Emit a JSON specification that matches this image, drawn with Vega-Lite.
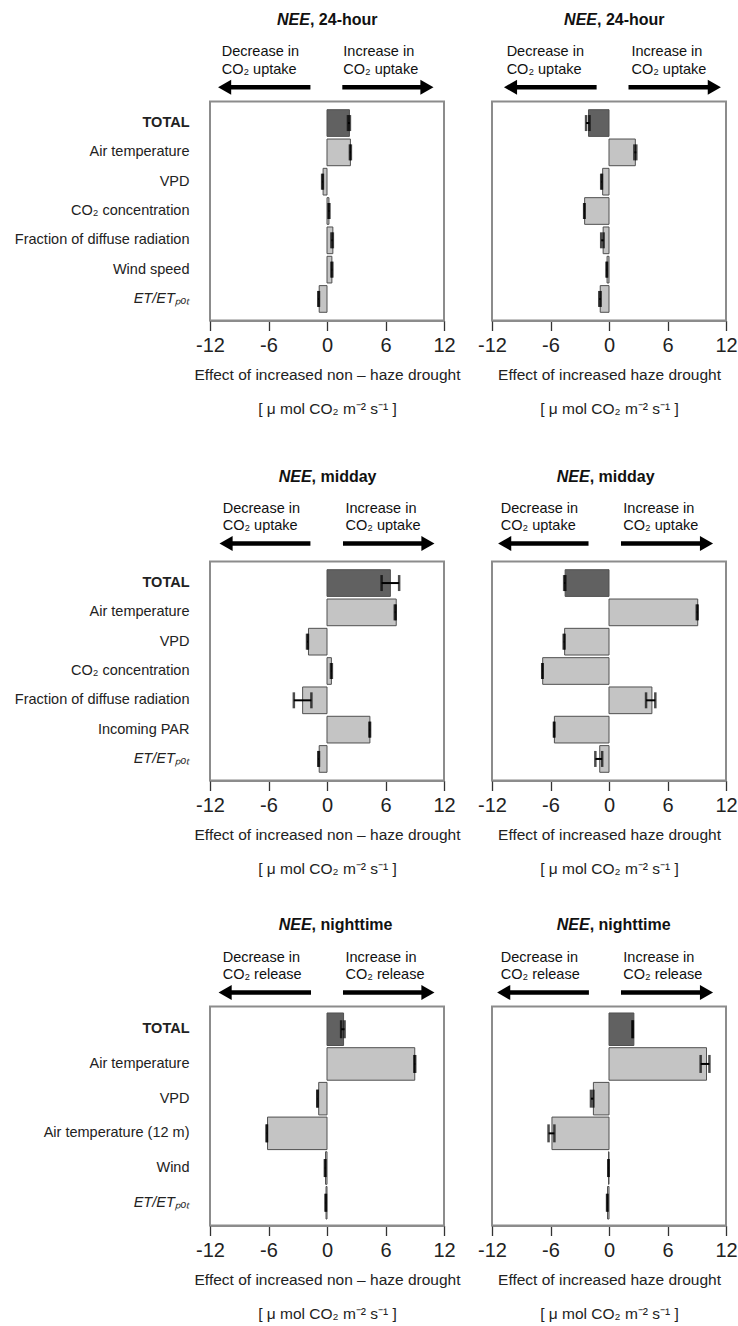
{
  "$schema": "https://vega.github.io/schema/vega-lite/v6.json",
  "padding": {"left": 13, "top": 8.5, "right": 5, "bottom": 5},
  "background": "white",
  "config": {
    "font": "Liberation Sans",
    "view": {"stroke": "#8c8c8c", "strokeWidth": 2},
    "axis": {"grid": false}
  },
  "datasets": {
    "bars": [
      {"p": "A", "f": "TOTAL", "t": "total", "v": 2.3, "lo": 2.15, "hi": 2.35},
      {"p": "A", "f": "Air temperature", "t": "factor", "v": 2.4, "lo": 2.35, "hi": 2.45},
      {"p": "A", "f": "VPD", "t": "factor", "v": -0.4, "lo": -0.5, "hi": -0.42},
      {"p": "A", "f": "CO₂ concentration", "t": "factor", "v": 0.2, "lo": 0.15, "hi": 0.25},
      {"p": "A", "f": "Fraction of diffuse radiation", "t": "factor", "v": 0.6, "lo": 0.45, "hi": 0.6},
      {"p": "A", "f": "Wind speed", "t": "factor", "v": 0.5, "lo": 0.45, "hi": 0.55},
      {"p": "A", "f": "ET/ETₚₒₜ", "t": "factor", "v": -0.8, "lo": -0.9, "hi": -0.82},
      {"p": "B", "f": "TOTAL", "t": "total", "v": -2.1, "lo": -2.35, "hi": -2.0},
      {"p": "B", "f": "Air temperature", "t": "factor", "v": 2.7, "lo": 2.6, "hi": 2.8},
      {"p": "B", "f": "VPD", "t": "factor", "v": -0.65, "lo": -0.8, "hi": -0.72},
      {"p": "B", "f": "CO₂ concentration", "t": "factor", "v": -2.5, "lo": -2.55, "hi": -2.5},
      {"p": "B", "f": "Fraction of diffuse radiation", "t": "factor", "v": -0.6, "lo": -0.8, "hi": -0.55},
      {"p": "B", "f": "Wind speed", "t": "factor", "v": -0.2, "lo": -0.25, "hi": -0.2},
      {"p": "B", "f": "ET/ETₚₒₜ", "t": "factor", "v": -0.9, "lo": -1.0, "hi": -0.85},
      {"p": "C", "f": "TOTAL", "t": "total", "v": 6.5, "lo": 5.6, "hi": 7.4},
      {"p": "C", "f": "Air temperature", "t": "factor", "v": 7.1, "lo": 6.95, "hi": 7.05},
      {"p": "C", "f": "VPD", "t": "factor", "v": -1.9, "lo": -2.05, "hi": -1.95},
      {"p": "C", "f": "CO₂ concentration", "t": "factor", "v": 0.45, "lo": 0.4, "hi": 0.5},
      {"p": "C", "f": "Fraction of diffuse radiation", "t": "factor", "v": -2.5, "lo": -3.4, "hi": -1.6},
      {"p": "C", "f": "Incoming PAR", "t": "factor", "v": 4.4, "lo": 4.35, "hi": 4.42},
      {"p": "C", "f": "ET/ETₚₒₜ", "t": "factor", "v": -0.8, "lo": -0.9, "hi": -0.82},
      {"p": "D", "f": "TOTAL", "t": "total", "v": -4.5, "lo": -4.6, "hi": -4.48},
      {"p": "D", "f": "Air temperature", "t": "factor", "v": 9.1, "lo": 9.0, "hi": 9.1},
      {"p": "D", "f": "VPD", "t": "factor", "v": -4.55, "lo": -4.65, "hi": -4.55},
      {"p": "D", "f": "CO₂ concentration", "t": "factor", "v": -6.8, "lo": -6.85, "hi": -6.8},
      {"p": "D", "f": "Fraction of diffuse radiation", "t": "factor", "v": 4.4, "lo": 3.8, "hi": 4.75},
      {"p": "D", "f": "Incoming PAR", "t": "factor", "v": -5.6, "lo": -5.65, "hi": -5.6},
      {"p": "D", "f": "ET/ETₚₒₜ", "t": "factor", "v": -0.95, "lo": -1.4, "hi": -0.7},
      {"p": "E", "f": "TOTAL", "t": "total", "v": 1.7, "lo": 1.45, "hi": 1.8},
      {"p": "E", "f": "Air temperature", "t": "factor", "v": 9.0, "lo": 8.95, "hi": 9.05},
      {"p": "E", "f": "VPD", "t": "factor", "v": -0.85, "lo": -1.0, "hi": -0.95},
      {"p": "E", "f": "Air temperature (12 m)", "t": "factor", "v": -6.1, "lo": -6.2, "hi": -6.15},
      {"p": "E", "f": "Wind", "t": "factor", "v": -0.15, "lo": -0.22, "hi": -0.15},
      {"p": "E", "f": "ET/ETₚₒₜ", "t": "factor", "v": -0.1, "lo": -0.15, "hi": -0.1},
      {"p": "F", "f": "TOTAL", "t": "total", "v": 2.55, "lo": 2.4, "hi": 2.45},
      {"p": "F", "f": "Air temperature", "t": "factor", "v": 10.0, "lo": 9.4, "hi": 10.3},
      {"p": "F", "f": "VPD", "t": "factor", "v": -1.6, "lo": -1.85, "hi": -1.6},
      {"p": "F", "f": "Air temperature (12 m)", "t": "factor", "v": -5.85, "lo": -6.2, "hi": -5.6},
      {"p": "F", "f": "Wind", "t": "factor", "v": -0.05, "lo": -0.08, "hi": -0.03},
      {"p": "F", "f": "ET/ETₚₒₜ", "t": "factor", "v": -0.15, "lo": -0.2, "hi": -0.15}
    ],
    "hdr": [
      {"p": "A", "lv": "t", "part": "a", "txt": "NEE", "x": -1.75},
      {"p": "A", "lv": "t", "part": "b", "txt": ", 24-hour", "x": -1.75},
      {"p": "A", "lv": "l1", "part": "c", "txt": "Decrease in", "x": -10.8},
      {"p": "A", "lv": "l2", "part": "c", "txt": "CO₂ uptake", "x": -10.8},
      {"p": "A", "lv": "l1", "part": "c", "txt": "Increase in", "x": 1.67},
      {"p": "A", "lv": "l2", "part": "c", "txt": "CO₂ uptake", "x": 1.67},
      {"p": "B", "lv": "t", "part": "a", "txt": "NEE", "x": -1.23},
      {"p": "B", "lv": "t", "part": "b", "txt": ", 24-hour", "x": -1.23},
      {"p": "B", "lv": "l1", "part": "c", "txt": "Decrease in", "x": -10.5},
      {"p": "B", "lv": "l2", "part": "c", "txt": "CO₂ uptake", "x": -10.5},
      {"p": "B", "lv": "l1", "part": "c", "txt": "Increase in", "x": 2.3},
      {"p": "B", "lv": "l2", "part": "c", "txt": "CO₂ uptake", "x": 2.3},
      {"p": "C", "lv": "t", "part": "a", "txt": "NEE", "x": -1.58},
      {"p": "C", "lv": "t", "part": "b", "txt": ", midday", "x": -1.58},
      {"p": "C", "lv": "l1", "part": "c", "txt": "Decrease in", "x": -10.7},
      {"p": "C", "lv": "l2", "part": "c", "txt": "CO₂ uptake", "x": -10.7},
      {"p": "C", "lv": "l1", "part": "c", "txt": "Increase in", "x": 1.9},
      {"p": "C", "lv": "l2", "part": "c", "txt": "CO₂ uptake", "x": 1.9},
      {"p": "D", "lv": "t", "part": "a", "txt": "NEE", "x": -1.98},
      {"p": "D", "lv": "t", "part": "b", "txt": ", midday", "x": -1.98},
      {"p": "D", "lv": "l1", "part": "c", "txt": "Decrease in", "x": -11.1},
      {"p": "D", "lv": "l2", "part": "c", "txt": "CO₂ uptake", "x": -11.1},
      {"p": "D", "lv": "l1", "part": "c", "txt": "Increase in", "x": 1.47},
      {"p": "D", "lv": "l2", "part": "c", "txt": "CO₂ uptake", "x": 1.47},
      {"p": "E", "lv": "t", "part": "a", "txt": "NEE", "x": -1.58},
      {"p": "E", "lv": "t", "part": "b", "txt": ", nighttime", "x": -1.58},
      {"p": "E", "lv": "l1", "part": "c", "txt": "Decrease in", "x": -10.7},
      {"p": "E", "lv": "l2", "part": "c", "txt": "CO₂ release", "x": -10.7},
      {"p": "E", "lv": "l1", "part": "c", "txt": "Increase in", "x": 1.9},
      {"p": "E", "lv": "l2", "part": "c", "txt": "CO₂ release", "x": 1.9},
      {"p": "F", "lv": "t", "part": "a", "txt": "NEE", "x": -1.98},
      {"p": "F", "lv": "t", "part": "b", "txt": ", nighttime", "x": -1.98},
      {"p": "F", "lv": "l1", "part": "c", "txt": "Decrease in", "x": -11.1},
      {"p": "F", "lv": "l2", "part": "c", "txt": "CO₂ release", "x": -11.1},
      {"p": "F", "lv": "l1", "part": "c", "txt": "Increase in", "x": 1.47},
      {"p": "F", "lv": "l2", "part": "c", "txt": "CO₂ release", "x": 1.47}
    ],
    "arr": [
      {"p": "A", "lv": "a", "dir": "L", "x": -1.7, "x2": -10.5},
      {"p": "A", "lv": "a", "dir": "R", "x": 1.57, "x2": 10.25},
      {"p": "B", "lv": "a", "dir": "L", "x": -1.27, "x2": -10.1},
      {"p": "B", "lv": "a", "dir": "R", "x": 2.0, "x2": 10.8},
      {"p": "C", "lv": "a", "dir": "L", "x": -1.7, "x2": -10.35},
      {"p": "C", "lv": "a", "dir": "R", "x": 1.64, "x2": 10.35},
      {"p": "D", "lv": "a", "dir": "L", "x": -2.1, "x2": -10.7},
      {"p": "D", "lv": "a", "dir": "R", "x": 1.23, "x2": 10.0},
      {"p": "E", "lv": "a", "dir": "L", "x": -1.64, "x2": -10.45},
      {"p": "E", "lv": "a", "dir": "R", "x": 1.64, "x2": 10.35},
      {"p": "F", "lv": "a", "dir": "L", "x": -2.06, "x2": -10.8},
      {"p": "F", "lv": "a", "dir": "R", "x": 1.23, "x2": 10.0}
    ]
  },
  "bounds": "flush",
  "columns": 2,
  "spacing": {"row": 5, "column": 48},
  "concat": [
    {
      "width": 234, "height": 87.5, "view": {"stroke": null},
      "layer": [
        {"data": {"name": "hdr"}, "transform": [{"filter": "datum.p === 'A' && datum.part === 'a'"}],
         "mark": {"type": "text", "align": "right", "fontWeight": "bold", "fontStyle": "italic", "fontSize": 16, "dy": 3, "color": "#111"},
         "encoding": {"x": {"field": "x", "type": "quantitative", "scale": {"domain": [-12, 12], "nice": false, "zero": false}, "axis": null},
                      "y": {"field": "lv", "type": "ordinal", "scale": {"type": "point", "domain": ["t", "s", "l1", "l2", "a"], "padding": 0.5}, "axis": null},
                      "text": {"field": "txt"}}},
        {"data": {"name": "hdr"}, "transform": [{"filter": "datum.p === 'A' && datum.part === 'b'"}],
         "mark": {"type": "text", "align": "left", "fontWeight": "bold", "fontSize": 16, "dy": 3, "color": "#111"},
         "encoding": {"x": {"field": "x", "type": "quantitative"}, "y": {"field": "lv", "type": "ordinal"}, "text": {"field": "txt"}}},
        {"data": {"name": "hdr"}, "transform": [{"filter": "datum.p === 'A' && datum.part === 'c'"}],
         "mark": {"type": "text", "align": "left", "fontSize": 14.5, "color": "#111"},
         "encoding": {"x": {"field": "x", "type": "quantitative"}, "y": {"field": "lv", "type": "ordinal"}, "text": {"field": "txt"}}},
        {"data": {"name": "arr"}, "transform": [{"filter": "datum.p === 'A'"}],
         "mark": {"type": "rule", "strokeWidth": 4.5, "color": "black"},
         "encoding": {"x": {"field": "x", "type": "quantitative"}, "x2": {"field": "x2"}, "y": {"field": "lv", "type": "ordinal"}}},
        {"data": {"name": "arr"}, "transform": [{"filter": "datum.p === 'A'"}],
         "mark": {"type": "point", "filled": true, "size": 230, "color": "black", "opacity": 1},
         "encoding": {"x": {"field": "x2", "type": "quantitative"}, "y": {"field": "lv", "type": "ordinal"},
                      "shape": {"field": "dir", "type": "nominal", "scale": {"domain": ["L", "R"], "range": ["triangle-left", "triangle-right"]}, "legend": null}}}
      ]
    },
    {
      "width": 234, "height": 87.5, "view": {"stroke": null},
      "layer": [
        {"data": {"name": "hdr"}, "transform": [{"filter": "datum.p === 'B' && datum.part === 'a'"}],
         "mark": {"type": "text", "align": "right", "fontWeight": "bold", "fontStyle": "italic", "fontSize": 16, "dy": 3, "color": "#111"},
         "encoding": {"x": {"field": "x", "type": "quantitative", "scale": {"domain": [-12, 12], "nice": false, "zero": false}, "axis": null},
                      "y": {"field": "lv", "type": "ordinal", "scale": {"type": "point", "domain": ["t", "s", "l1", "l2", "a"], "padding": 0.5}, "axis": null},
                      "text": {"field": "txt"}}},
        {"data": {"name": "hdr"}, "transform": [{"filter": "datum.p === 'B' && datum.part === 'b'"}],
         "mark": {"type": "text", "align": "left", "fontWeight": "bold", "fontSize": 16, "dy": 3, "color": "#111"},
         "encoding": {"x": {"field": "x", "type": "quantitative"}, "y": {"field": "lv", "type": "ordinal"}, "text": {"field": "txt"}}},
        {"data": {"name": "hdr"}, "transform": [{"filter": "datum.p === 'B' && datum.part === 'c'"}],
         "mark": {"type": "text", "align": "left", "fontSize": 14.5, "color": "#111"},
         "encoding": {"x": {"field": "x", "type": "quantitative"}, "y": {"field": "lv", "type": "ordinal"}, "text": {"field": "txt"}}},
        {"data": {"name": "arr"}, "transform": [{"filter": "datum.p === 'B'"}],
         "mark": {"type": "rule", "strokeWidth": 4.5, "color": "black"},
         "encoding": {"x": {"field": "x", "type": "quantitative"}, "x2": {"field": "x2"}, "y": {"field": "lv", "type": "ordinal"}}},
        {"data": {"name": "arr"}, "transform": [{"filter": "datum.p === 'B'"}],
         "mark": {"type": "point", "filled": true, "size": 230, "color": "black", "opacity": 1},
         "encoding": {"x": {"field": "x2", "type": "quantitative"}, "y": {"field": "lv", "type": "ordinal"},
                      "shape": {"field": "dir", "type": "nominal", "scale": {"domain": ["L", "R"], "range": ["triangle-left", "triangle-right"]}, "legend": null}}}
      ]
    },
    {
      "width": 234, "height": 219,
      "data": {"name": "bars"},
      "transform": [{"filter": "datum.p === 'A'"}],
      "encoding": {"y": {"field": "f", "type": "nominal", "sort": null, "scale": {"paddingInner": 0.09, "paddingOuter": 0.28},
        "axis": {"title": null, "ticks": false, "tickSize": 0, "domain": false, "labelPadding": 21, "labelFontSize": 14.5, "labelColor": "#222", "labelLimit": 300,
                 "labelFontWeight": {"condition": {"test": "datum.value === 'TOTAL'", "value": "bold"}, "value": "normal"},
                 "labelFontStyle": {"condition": {"test": "indexof(datum.value, 'ET/') === 0", "value": "italic"}, "value": "normal"}}}},
      "layer": [
        {"mark": {"type": "bar", "stroke": "#505050", "strokeWidth": 1},
         "encoding": {"x": {"field": "v", "type": "quantitative", "scale": {"domain": [-12, 12], "nice": false, "zero": false},
            "axis": {"values": [-12, -9, -6, -3, 0, 3, 6, 9, 12], "labelExpr": "datum.value % 6 === 0 ? '' + datum.value : ''", "tickSize": 10, "tickColor": "#333", "tickWidth": 1.3, "domainColor": "#8c8c8c", "domainWidth": 2, "labelFontSize": 20, "labelColor": "#222", "labelPadding": 5, "labelFlush": false, "labelOverlap": false, "titleFontSize": 15.5, "titleFontWeight": "normal", "titleColor": "#222", "titlePadding": 12, "titleLineHeight": 34,
                     "title": ["Effect of increased non – haze drought", "[ μ mol CO₂ m⁻² s⁻¹ ]"]}},
                      "color": {"field": "t", "type": "nominal", "scale": {"domain": ["total", "factor"], "range": ["#616161", "#c4c4c4"]}, "legend": null}}},
        {"mark": {"type": "rule", "color": "black", "strokeWidth": 2},
         "encoding": {"x": {"field": "lo", "type": "quantitative"}, "x2": {"field": "hi"}}},
        {"mark": {"type": "tick", "color": "black", "thickness": 2.5, "size": 16},
         "encoding": {"x": {"field": "lo", "type": "quantitative"}}},
        {"mark": {"type": "tick", "color": "black", "thickness": 2.5, "size": 16},
         "encoding": {"x": {"field": "hi", "type": "quantitative"}}}
      ]
    },
    {
      "width": 234, "height": 219,
      "data": {"name": "bars"},
      "transform": [{"filter": "datum.p === 'B'"}],
      "encoding": {"y": {"field": "f", "type": "nominal", "sort": null, "scale": {"paddingInner": 0.09, "paddingOuter": 0.28}, "axis": null}},
      "layer": [
        {"mark": {"type": "bar", "stroke": "#505050", "strokeWidth": 1},
         "encoding": {"x": {"field": "v", "type": "quantitative", "scale": {"domain": [-12, 12], "nice": false, "zero": false},
            "axis": {"values": [-12, -9, -6, -3, 0, 3, 6, 9, 12], "labelExpr": "datum.value % 6 === 0 ? '' + datum.value : ''", "tickSize": 10, "tickColor": "#333", "tickWidth": 1.3, "domainColor": "#8c8c8c", "domainWidth": 2, "labelFontSize": 20, "labelColor": "#222", "labelPadding": 5, "labelFlush": false, "labelOverlap": false, "titleFontSize": 15.5, "titleFontWeight": "normal", "titleColor": "#222", "titlePadding": 12, "titleLineHeight": 34,
                     "title": ["Effect of increased haze drought", "[ μ mol CO₂ m⁻² s⁻¹ ]"]}},
                      "color": {"field": "t", "type": "nominal", "scale": {"domain": ["total", "factor"], "range": ["#616161", "#c4c4c4"]}, "legend": null}}},
        {"mark": {"type": "rule", "color": "black", "strokeWidth": 2},
         "encoding": {"x": {"field": "lo", "type": "quantitative"}, "x2": {"field": "hi"}}},
        {"mark": {"type": "tick", "color": "black", "thickness": 2.5, "size": 16},
         "encoding": {"x": {"field": "lo", "type": "quantitative"}}},
        {"mark": {"type": "tick", "color": "black", "thickness": 2.5, "size": 16},
         "encoding": {"x": {"field": "hi", "type": "quantitative"}}}
      ]
    },
    {
      "width": 234, "height": 231, "view": {"stroke": null},
      "layer": [
        {"data": {"name": "hdr"}, "transform": [{"filter": "datum.p === 'C' && datum.part === 'a'"}],
         "mark": {"type": "text", "align": "right", "fontWeight": "bold", "fontStyle": "italic", "fontSize": 16, "dy": 3, "color": "#111"},
         "encoding": {"x": {"field": "x", "type": "quantitative", "scale": {"domain": [-12, 12], "nice": false, "zero": false}, "axis": null},
                      "y": {"field": "lv", "type": "ordinal", "scale": {"type": "point", "domain": ["s1", "s2", "s3", "s4", "s5", "s6", "s7", "s8", "t", "s", "l1", "l2", "a"], "padding": 0.6, "align": 0.381}, "axis": null},
                      "text": {"field": "txt"}}},
        {"data": {"name": "hdr"}, "transform": [{"filter": "datum.p === 'C' && datum.part === 'b'"}],
         "mark": {"type": "text", "align": "left", "fontWeight": "bold", "fontSize": 16, "dy": 3, "color": "#111"},
         "encoding": {"x": {"field": "x", "type": "quantitative"}, "y": {"field": "lv", "type": "ordinal"}, "text": {"field": "txt"}}},
        {"data": {"name": "hdr"}, "transform": [{"filter": "datum.p === 'C' && datum.part === 'c'"}],
         "mark": {"type": "text", "align": "left", "fontSize": 14.5, "color": "#111"},
         "encoding": {"x": {"field": "x", "type": "quantitative"}, "y": {"field": "lv", "type": "ordinal"}, "text": {"field": "txt"}}},
        {"data": {"name": "arr"}, "transform": [{"filter": "datum.p === 'C'"}],
         "mark": {"type": "rule", "strokeWidth": 4.5, "color": "black"},
         "encoding": {"x": {"field": "x", "type": "quantitative"}, "x2": {"field": "x2"}, "y": {"field": "lv", "type": "ordinal"}}},
        {"data": {"name": "arr"}, "transform": [{"filter": "datum.p === 'C'"}],
         "mark": {"type": "point", "filled": true, "size": 230, "color": "black", "opacity": 1},
         "encoding": {"x": {"field": "x2", "type": "quantitative"}, "y": {"field": "lv", "type": "ordinal"},
                      "shape": {"field": "dir", "type": "nominal", "scale": {"domain": ["L", "R"], "range": ["triangle-left", "triangle-right"]}, "legend": null}}}
      ]
    },
    {
      "width": 234, "height": 231, "view": {"stroke": null},
      "layer": [
        {"data": {"name": "hdr"}, "transform": [{"filter": "datum.p === 'D' && datum.part === 'a'"}],
         "mark": {"type": "text", "align": "right", "fontWeight": "bold", "fontStyle": "italic", "fontSize": 16, "dy": 3, "color": "#111"},
         "encoding": {"x": {"field": "x", "type": "quantitative", "scale": {"domain": [-12, 12], "nice": false, "zero": false}, "axis": null},
                      "y": {"field": "lv", "type": "ordinal", "scale": {"type": "point", "domain": ["s1", "s2", "s3", "s4", "s5", "s6", "s7", "s8", "t", "s", "l1", "l2", "a"], "padding": 0.6, "align": 0.381}, "axis": null},
                      "text": {"field": "txt"}}},
        {"data": {"name": "hdr"}, "transform": [{"filter": "datum.p === 'D' && datum.part === 'b'"}],
         "mark": {"type": "text", "align": "left", "fontWeight": "bold", "fontSize": 16, "dy": 3, "color": "#111"},
         "encoding": {"x": {"field": "x", "type": "quantitative"}, "y": {"field": "lv", "type": "ordinal"}, "text": {"field": "txt"}}},
        {"data": {"name": "hdr"}, "transform": [{"filter": "datum.p === 'D' && datum.part === 'c'"}],
         "mark": {"type": "text", "align": "left", "fontSize": 14.5, "color": "#111"},
         "encoding": {"x": {"field": "x", "type": "quantitative"}, "y": {"field": "lv", "type": "ordinal"}, "text": {"field": "txt"}}},
        {"data": {"name": "arr"}, "transform": [{"filter": "datum.p === 'D'"}],
         "mark": {"type": "rule", "strokeWidth": 4.5, "color": "black"},
         "encoding": {"x": {"field": "x", "type": "quantitative"}, "x2": {"field": "x2"}, "y": {"field": "lv", "type": "ordinal"}}},
        {"data": {"name": "arr"}, "transform": [{"filter": "datum.p === 'D'"}],
         "mark": {"type": "point", "filled": true, "size": 230, "color": "black", "opacity": 1},
         "encoding": {"x": {"field": "x2", "type": "quantitative"}, "y": {"field": "lv", "type": "ordinal"},
                      "shape": {"field": "dir", "type": "nominal", "scale": {"domain": ["L", "R"], "range": ["triangle-left", "triangle-right"]}, "legend": null}}}
      ]
    },
    {
      "width": 234, "height": 219,
      "data": {"name": "bars"},
      "transform": [{"filter": "datum.p === 'C'"}],
      "encoding": {"y": {"field": "f", "type": "nominal", "sort": null, "scale": {"paddingInner": 0.09, "paddingOuter": 0.28},
        "axis": {"title": null, "ticks": false, "tickSize": 0, "domain": false, "labelPadding": 21, "labelFontSize": 14.5, "labelColor": "#222", "labelLimit": 300,
                 "labelFontWeight": {"condition": {"test": "datum.value === 'TOTAL'", "value": "bold"}, "value": "normal"},
                 "labelFontStyle": {"condition": {"test": "indexof(datum.value, 'ET/') === 0", "value": "italic"}, "value": "normal"}}}},
      "layer": [
        {"mark": {"type": "bar", "stroke": "#505050", "strokeWidth": 1},
         "encoding": {"x": {"field": "v", "type": "quantitative", "scale": {"domain": [-12, 12], "nice": false, "zero": false},
            "axis": {"values": [-12, -9, -6, -3, 0, 3, 6, 9, 12], "labelExpr": "datum.value % 6 === 0 ? '' + datum.value : ''", "tickSize": 10, "tickColor": "#333", "tickWidth": 1.3, "domainColor": "#8c8c8c", "domainWidth": 2, "labelFontSize": 20, "labelColor": "#222", "labelPadding": 5, "labelFlush": false, "labelOverlap": false, "titleFontSize": 15.5, "titleFontWeight": "normal", "titleColor": "#222", "titlePadding": 12, "titleLineHeight": 34,
                     "title": ["Effect of increased non – haze drought", "[ μ mol CO₂ m⁻² s⁻¹ ]"]}},
                      "color": {"field": "t", "type": "nominal", "scale": {"domain": ["total", "factor"], "range": ["#616161", "#c4c4c4"]}, "legend": null}}},
        {"mark": {"type": "rule", "color": "black", "strokeWidth": 2},
         "encoding": {"x": {"field": "lo", "type": "quantitative"}, "x2": {"field": "hi"}}},
        {"mark": {"type": "tick", "color": "black", "thickness": 2.5, "size": 16},
         "encoding": {"x": {"field": "lo", "type": "quantitative"}}},
        {"mark": {"type": "tick", "color": "black", "thickness": 2.5, "size": 16},
         "encoding": {"x": {"field": "hi", "type": "quantitative"}}}
      ]
    },
    {
      "width": 234, "height": 219,
      "data": {"name": "bars"},
      "transform": [{"filter": "datum.p === 'D'"}],
      "encoding": {"y": {"field": "f", "type": "nominal", "sort": null, "scale": {"paddingInner": 0.09, "paddingOuter": 0.28}, "axis": null}},
      "layer": [
        {"mark": {"type": "bar", "stroke": "#505050", "strokeWidth": 1},
         "encoding": {"x": {"field": "v", "type": "quantitative", "scale": {"domain": [-12, 12], "nice": false, "zero": false},
            "axis": {"values": [-12, -9, -6, -3, 0, 3, 6, 9, 12], "labelExpr": "datum.value % 6 === 0 ? '' + datum.value : ''", "tickSize": 10, "tickColor": "#333", "tickWidth": 1.3, "domainColor": "#8c8c8c", "domainWidth": 2, "labelFontSize": 20, "labelColor": "#222", "labelPadding": 5, "labelFlush": false, "labelOverlap": false, "titleFontSize": 15.5, "titleFontWeight": "normal", "titleColor": "#222", "titlePadding": 12, "titleLineHeight": 34,
                     "title": ["Effect of increased haze drought", "[ μ mol CO₂ m⁻² s⁻¹ ]"]}},
                      "color": {"field": "t", "type": "nominal", "scale": {"domain": ["total", "factor"], "range": ["#616161", "#c4c4c4"]}, "legend": null}}},
        {"mark": {"type": "rule", "color": "black", "strokeWidth": 2},
         "encoding": {"x": {"field": "lo", "type": "quantitative"}, "x2": {"field": "hi"}}},
        {"mark": {"type": "tick", "color": "black", "thickness": 2.5, "size": 16},
         "encoding": {"x": {"field": "lo", "type": "quantitative"}}},
        {"mark": {"type": "tick", "color": "black", "thickness": 2.5, "size": 16},
         "encoding": {"x": {"field": "hi", "type": "quantitative"}}}
      ]
    },
    {
      "width": 234, "height": 216, "view": {"stroke": null},
      "layer": [
        {"data": {"name": "hdr"}, "transform": [{"filter": "datum.p === 'E' && datum.part === 'a'"}],
         "mark": {"type": "text", "align": "right", "fontWeight": "bold", "fontStyle": "italic", "fontSize": 16, "dy": 3, "color": "#111"},
         "encoding": {"x": {"field": "x", "type": "quantitative", "scale": {"domain": [-12, 12], "nice": false, "zero": false}, "axis": null},
                      "y": {"field": "lv", "type": "ordinal", "scale": {"type": "point", "domain": ["s1", "s2", "s3", "s4", "s5", "s6", "s7", "t", "s", "l1", "l2", "a"], "padding": 0.671, "align": 0.617}, "axis": null},
                      "text": {"field": "txt"}}},
        {"data": {"name": "hdr"}, "transform": [{"filter": "datum.p === 'E' && datum.part === 'b'"}],
         "mark": {"type": "text", "align": "left", "fontWeight": "bold", "fontSize": 16, "dy": 3, "color": "#111"},
         "encoding": {"x": {"field": "x", "type": "quantitative"}, "y": {"field": "lv", "type": "ordinal"}, "text": {"field": "txt"}}},
        {"data": {"name": "hdr"}, "transform": [{"filter": "datum.p === 'E' && datum.part === 'c'"}],
         "mark": {"type": "text", "align": "left", "fontSize": 14.5, "color": "#111"},
         "encoding": {"x": {"field": "x", "type": "quantitative"}, "y": {"field": "lv", "type": "ordinal"}, "text": {"field": "txt"}}},
        {"data": {"name": "arr"}, "transform": [{"filter": "datum.p === 'E'"}],
         "mark": {"type": "rule", "strokeWidth": 4.5, "color": "black"},
         "encoding": {"x": {"field": "x", "type": "quantitative"}, "x2": {"field": "x2"}, "y": {"field": "lv", "type": "ordinal"}}},
        {"data": {"name": "arr"}, "transform": [{"filter": "datum.p === 'E'"}],
         "mark": {"type": "point", "filled": true, "size": 230, "color": "black", "opacity": 1},
         "encoding": {"x": {"field": "x2", "type": "quantitative"}, "y": {"field": "lv", "type": "ordinal"},
                      "shape": {"field": "dir", "type": "nominal", "scale": {"domain": ["L", "R"], "range": ["triangle-left", "triangle-right"]}, "legend": null}}}
      ]
    },
    {
      "width": 234, "height": 216, "view": {"stroke": null},
      "layer": [
        {"data": {"name": "hdr"}, "transform": [{"filter": "datum.p === 'F' && datum.part === 'a'"}],
         "mark": {"type": "text", "align": "right", "fontWeight": "bold", "fontStyle": "italic", "fontSize": 16, "dy": 3, "color": "#111"},
         "encoding": {"x": {"field": "x", "type": "quantitative", "scale": {"domain": [-12, 12], "nice": false, "zero": false}, "axis": null},
                      "y": {"field": "lv", "type": "ordinal", "scale": {"type": "point", "domain": ["s1", "s2", "s3", "s4", "s5", "s6", "s7", "t", "s", "l1", "l2", "a"], "padding": 0.671, "align": 0.617}, "axis": null},
                      "text": {"field": "txt"}}},
        {"data": {"name": "hdr"}, "transform": [{"filter": "datum.p === 'F' && datum.part === 'b'"}],
         "mark": {"type": "text", "align": "left", "fontWeight": "bold", "fontSize": 16, "dy": 3, "color": "#111"},
         "encoding": {"x": {"field": "x", "type": "quantitative"}, "y": {"field": "lv", "type": "ordinal"}, "text": {"field": "txt"}}},
        {"data": {"name": "hdr"}, "transform": [{"filter": "datum.p === 'F' && datum.part === 'c'"}],
         "mark": {"type": "text", "align": "left", "fontSize": 14.5, "color": "#111"},
         "encoding": {"x": {"field": "x", "type": "quantitative"}, "y": {"field": "lv", "type": "ordinal"}, "text": {"field": "txt"}}},
        {"data": {"name": "arr"}, "transform": [{"filter": "datum.p === 'F'"}],
         "mark": {"type": "rule", "strokeWidth": 4.5, "color": "black"},
         "encoding": {"x": {"field": "x", "type": "quantitative"}, "x2": {"field": "x2"}, "y": {"field": "lv", "type": "ordinal"}}},
        {"data": {"name": "arr"}, "transform": [{"filter": "datum.p === 'F'"}],
         "mark": {"type": "point", "filled": true, "size": 230, "color": "black", "opacity": 1},
         "encoding": {"x": {"field": "x2", "type": "quantitative"}, "y": {"field": "lv", "type": "ordinal"},
                      "shape": {"field": "dir", "type": "nominal", "scale": {"domain": ["L", "R"], "range": ["triangle-left", "triangle-right"]}, "legend": null}}}
      ]
    },
    {
      "width": 234, "height": 219,
      "data": {"name": "bars"},
      "transform": [{"filter": "datum.p === 'E'"}],
      "encoding": {"y": {"field": "f", "type": "nominal", "sort": null, "scale": {"paddingInner": 0.063, "paddingOuter": 0.187},
        "axis": {"title": null, "ticks": false, "tickSize": 0, "domain": false, "labelPadding": 21, "labelFontSize": 14.5, "labelColor": "#222", "labelLimit": 300,
                 "labelFontWeight": {"condition": {"test": "datum.value === 'TOTAL'", "value": "bold"}, "value": "normal"},
                 "labelFontStyle": {"condition": {"test": "indexof(datum.value, 'ET/') === 0", "value": "italic"}, "value": "normal"}}}},
      "layer": [
        {"mark": {"type": "bar", "stroke": "#505050", "strokeWidth": 1},
         "encoding": {"x": {"field": "v", "type": "quantitative", "scale": {"domain": [-12, 12], "nice": false, "zero": false},
            "axis": {"values": [-12, -9, -6, -3, 0, 3, 6, 9, 12], "labelExpr": "datum.value % 6 === 0 ? '' + datum.value : ''", "tickSize": 10, "tickColor": "#333", "tickWidth": 1.3, "domainColor": "#8c8c8c", "domainWidth": 2, "labelFontSize": 20, "labelColor": "#222", "labelPadding": 5, "labelFlush": false, "labelOverlap": false, "titleFontSize": 15.5, "titleFontWeight": "normal", "titleColor": "#222", "titlePadding": 12, "titleLineHeight": 34,
                     "title": ["Effect of increased non – haze drought", "[ μ mol CO₂ m⁻² s⁻¹ ]"]}},
                      "color": {"field": "t", "type": "nominal", "scale": {"domain": ["total", "factor"], "range": ["#616161", "#c4c4c4"]}, "legend": null}}},
        {"mark": {"type": "rule", "color": "black", "strokeWidth": 2},
         "encoding": {"x": {"field": "lo", "type": "quantitative"}, "x2": {"field": "hi"}}},
        {"mark": {"type": "tick", "color": "black", "thickness": 2.5, "size": 18},
         "encoding": {"x": {"field": "lo", "type": "quantitative"}}},
        {"mark": {"type": "tick", "color": "black", "thickness": 2.5, "size": 18},
         "encoding": {"x": {"field": "hi", "type": "quantitative"}}}
      ]
    },
    {
      "width": 234, "height": 219,
      "data": {"name": "bars"},
      "transform": [{"filter": "datum.p === 'F'"}],
      "encoding": {"y": {"field": "f", "type": "nominal", "sort": null, "scale": {"paddingInner": 0.063, "paddingOuter": 0.187}, "axis": null}},
      "layer": [
        {"mark": {"type": "bar", "stroke": "#505050", "strokeWidth": 1},
         "encoding": {"x": {"field": "v", "type": "quantitative", "scale": {"domain": [-12, 12], "nice": false, "zero": false},
            "axis": {"values": [-12, -9, -6, -3, 0, 3, 6, 9, 12], "labelExpr": "datum.value % 6 === 0 ? '' + datum.value : ''", "tickSize": 10, "tickColor": "#333", "tickWidth": 1.3, "domainColor": "#8c8c8c", "domainWidth": 2, "labelFontSize": 20, "labelColor": "#222", "labelPadding": 5, "labelFlush": false, "labelOverlap": false, "titleFontSize": 15.5, "titleFontWeight": "normal", "titleColor": "#222", "titlePadding": 12, "titleLineHeight": 34,
                     "title": ["Effect of increased haze drought", "[ μ mol CO₂ m⁻² s⁻¹ ]"]}},
                      "color": {"field": "t", "type": "nominal", "scale": {"domain": ["total", "factor"], "range": ["#616161", "#c4c4c4"]}, "legend": null}}},
        {"mark": {"type": "rule", "color": "black", "strokeWidth": 2},
         "encoding": {"x": {"field": "lo", "type": "quantitative"}, "x2": {"field": "hi"}}},
        {"mark": {"type": "tick", "color": "black", "thickness": 2.5, "size": 18},
         "encoding": {"x": {"field": "lo", "type": "quantitative"}}},
        {"mark": {"type": "tick", "color": "black", "thickness": 2.5, "size": 18},
         "encoding": {"x": {"field": "hi", "type": "quantitative"}}}
      ]
    }
  ]
}
